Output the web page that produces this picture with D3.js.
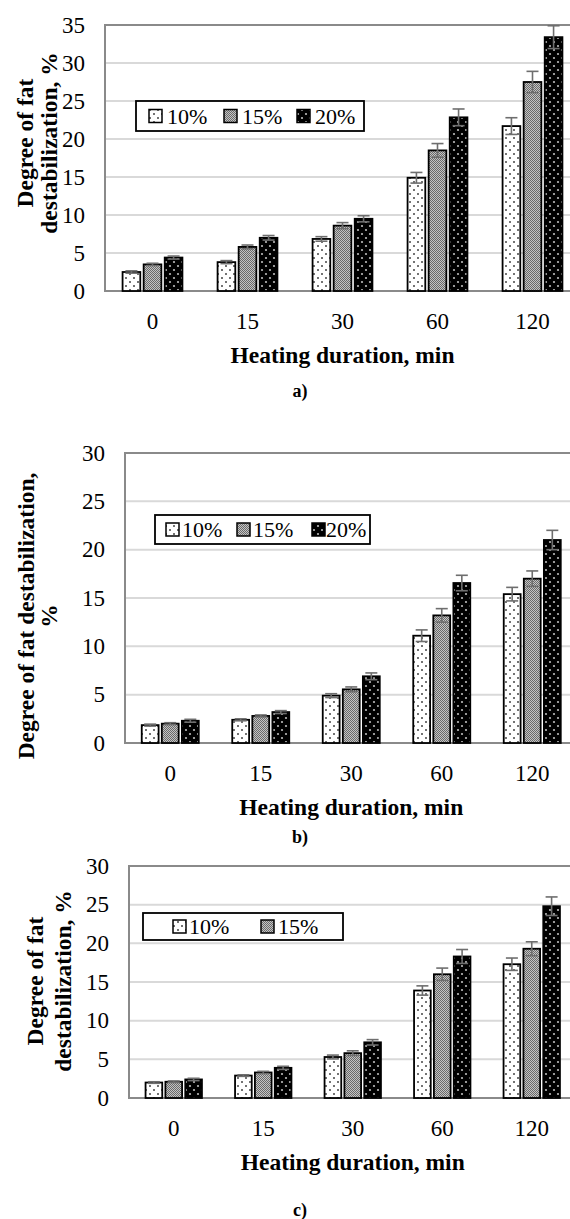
<!DOCTYPE html>
<html>
<head>
<meta charset="utf-8">
<script src="https://cdn.jsdelivr.net/npm/d3@7"></script>
<style>
html,body{margin:0;padding:0;background:#fff;}
svg{display:block;}
</style>
</head>
<body>
<svg id="chart" width="570" height="1219"></svg>
<script>
// ---------- data ----------
const categories = ["0", "15", "30", "60", "120"];
const seriesNames = ["10%", "15%", "20%"];
const legendA = ["10%", "15%", "20%"];
const legendB = ["10%", "15%", "20%"];
const legendC = ["10%", "15%"];
const ticksA = [0, 5, 10, 15, 20, 25, 30, 35];
const ticksB = [0, 5, 10, 15, 20, 25, 30];
const ticksC = [0, 5, 10, 15, 20, 25, 30];

// panel a
const a10 = [2.5, 3.8, 6.85, 14.9, 21.7];
const a15 = [3.5, 5.8, 8.6, 18.5, 27.5];
const a20 = [4.4, 7.0, 9.5, 22.85, 33.4];
const a10err = [0.15, 0.2, 0.3, 0.7, 1.1];
const a15err = [0.15, 0.25, 0.4, 0.9, 1.4];
const a20err = [0.2, 0.3, 0.4, 1.1, 1.5];
// panel b
const b10 = [1.85, 2.4, 4.9, 11.1, 15.4];
const b15 = [2.0, 2.8, 5.55, 13.2, 17.0];
const b20 = [2.3, 3.2, 6.9, 16.55, 21.0];
const b10err = [0.1, 0.1, 0.2, 0.6, 0.7];
const b15err = [0.1, 0.1, 0.25, 0.7, 0.8];
const b20err = [0.15, 0.15, 0.35, 0.8, 1.0];
// panel c
const c10 = [2.0, 2.9, 5.3, 13.9, 17.3];
const c15 = [2.1, 3.3, 5.8, 16.0, 19.3];
const c20 = [2.4, 3.9, 7.2, 18.3, 24.8];
const c10err = [0.1, 0.1, 0.25, 0.6, 0.8];
const c15err = [0.1, 0.15, 0.3, 0.8, 0.9];
const c20err = [0.15, 0.2, 0.35, 0.9, 1.2];

const yTitleA = ["Degree of fat", "destabilization, %"];
const yTitleB = ["Degree of fat destabilization,", "%"];
const yTitleC = ["Degree of fat", "destabilization, %"];
const xTitle = "Heating duration, min";

const FONT = "'Liberation Serif', 'Times New Roman', Times, 'DejaVu Serif', serif";

// ---------- layout ----------
const svg = d3.select("#chart").attr("font-family", FONT);
svg.append("rect").attr("width", 570).attr("height", 1219).attr("fill", "#fff");

const defs = svg.append("defs");
// 10%: white with dark dots
const p10 = defs.append("pattern").attr("id", "p10").attr("patternUnits", "userSpaceOnUse")
  .attr("width", 8).attr("height", 8);
p10.append("rect").attr("width", 8).attr("height", 8).attr("fill", "#fff");
p10.append("circle").attr("cx", 2).attr("cy", 2).attr("r", 1).attr("fill", "#444");
p10.append("circle").attr("cx", 6).attr("cy", 6).attr("r", 1).attr("fill", "#444");
// 15%: fine grey checker
const p15 = defs.append("pattern").attr("id", "p15").attr("patternUnits", "userSpaceOnUse")
  .attr("width", 2).attr("height", 2);
p15.append("rect").attr("width", 2).attr("height", 2).attr("fill", "#c4c4c4");
p15.append("rect").attr("width", 1).attr("height", 1).attr("fill", "#6a6a6a");
p15.append("rect").attr("x", 1).attr("y", 1).attr("width", 1).attr("height", 1).attr("fill", "#6a6a6a");
// 20%: black with light dots
const p20 = defs.append("pattern").attr("id", "p20").attr("patternUnits", "userSpaceOnUse")
  .attr("width", 8).attr("height", 8);
p20.append("rect").attr("width", 8).attr("height", 8).attr("fill", "#000");
p20.append("circle").attr("cx", 2).attr("cy", 2).attr("r", 1.1).attr("fill", "#bbb");
p20.append("circle").attr("cx", 6).attr("cy", 6).attr("r", 1.1).attr("fill", "#bbb");
const fills = ["url(#p10)", "url(#p15)", "url(#p20)"];

const panels = [
  { left: 105, top: 25, bottom: 291, band: 95, ymax: 35, ticks: ticksA,
    vals: [a10, a15, a20], errs: [a10err, a15err, a20err],
    yTitle: yTitleA, yTitleX: [25, 49], yTitleY: 143,
    legend: legendA, legBox: [136, 101, 228, 30], legSym: [149, 224, 297], legTxt: [167, 242, 315],
    letter: "a)", letterY: 391 },
  { left: 125, top: 453, bottom: 743, band: 90.5, ymax: 30, ticks: ticksB,
    vals: [b10, b15, b20], errs: [b10err, b15err, b20err],
    yTitle: yTitleB, yTitleX: [26, 49], yTitleY: 616,
    legend: legendB, legBox: [155, 515, 215, 29], legSym: [166, 237, 312], legTxt: [182, 253, 326],
    letter: "b)", letterY: 837 },
  { left: 129, top: 866, bottom: 1098, band: 89.5, ymax: 30, ticks: ticksC,
    vals: [c10, c15, c20], errs: [c10err, c15err, c20err],
    yTitle: yTitleC, yTitleX: [35, 63], yTitleY: 981,
    legend: legendC, legBox: [143, 913, 200, 27], legSym: [173, 261], legTxt: [189, 278],
    letter: "c)", letterY: 1210 }
];

function txt(sel) {
  return sel.attr("font-family", FONT);
}

panels.forEach(p => {
  const g = svg.append("g");
  const right = p.left + p.band * categories.length;
  const y = d3.scaleLinear().domain([0, p.ymax]).range([p.bottom, p.top]);
  const x = d3.scaleBand().domain(categories).range([p.left, right])
    .paddingInner(0.37).paddingOuter(0.185);
  const xs = d3.scaleBand().domain(seriesNames).range([0, x.bandwidth()]).paddingInner(0.16);

  // gridlines
  g.selectAll("line.grid").data(p.ticks.filter(t => t > 0 && t < p.ymax)).enter()
    .append("line").attr("x1", p.left).attr("x2", right)
    .attr("y1", d => y(d)).attr("y2", d => y(d))
    .attr("stroke", "#d9d9d9").attr("stroke-width", 2);

  // plot border
  g.append("rect").attr("x", p.left).attr("y", p.top)
    .attr("width", right - p.left).attr("height", p.bottom - p.top)
    .attr("fill", "none").attr("stroke", "#8a8a8a").attr("stroke-width", 2);

  // y tick labels
  txt(g.selectAll("text.yt").data(p.ticks).enter().append("text"))
    .attr("x", p.left - 20).attr("y", d => y(d))
    .attr("text-anchor", "end").attr("dominant-baseline", "central")
    .attr("font-size", 23).text(d => d);

  // x tick labels
  txt(g.selectAll("text.xt").data(categories).enter().append("text"))
    .attr("x", d => x(d) + x.bandwidth() / 2).attr("y", p.bottom + 30)
    .attr("text-anchor", "middle").attr("dominant-baseline", "central")
    .attr("font-size", 23).text(d => d);

  // bars
  seriesNames.forEach((s, si) => {
    g.selectAll(null).data(categories).enter().append("rect")
      .attr("x", d => x(d) + xs(s))
      .attr("y", (d, i) => y(p.vals[si][i]))
      .attr("width", xs.bandwidth())
      .attr("height", (d, i) => y(0) - y(p.vals[si][i]))
      .attr("fill", fills[si]).attr("stroke", "#000").attr("stroke-width", 1.8);
  });

  // error bars
  seriesNames.forEach((s, si) => {
    categories.forEach((c, i) => {
      const cx = x(c) + xs(s) + xs.bandwidth() / 2;
      const v = p.vals[si][i], e = p.errs[si][i];
      const eg = g.append("g").attr("stroke", "#6e6e6e").attr("stroke-width", 1.6);
      eg.append("line").attr("x1", cx).attr("x2", cx).attr("y1", y(v - e)).attr("y2", y(v + e));
      eg.append("line").attr("x1", cx - 6).attr("x2", cx + 6).attr("y1", y(v + e)).attr("y2", y(v + e));
      eg.append("line").attr("x1", cx - 6).attr("x2", cx + 6).attr("y1", y(v - e)).attr("y2", y(v - e));
    });
  });

  // y title (rotated)
  p.yTitle.forEach((t, li) => {
    txt(g.append("text"))
      .attr("transform", `translate(${p.yTitleX[li]},${p.yTitleY}) rotate(-90)`)
      .attr("text-anchor", "middle").attr("dominant-baseline", "central")
      .attr("font-size", 23.5).attr("font-weight", "bold").text(t);
  });

  // x title
  txt(g.append("text")).attr("x", (p.left + right) / 2).attr("y", p.bottom + 64)
    .attr("text-anchor", "middle").attr("dominant-baseline", "central")
    .attr("font-size", 23.5).attr("font-weight", "bold").text(xTitle);

  // panel letter
  txt(g.append("text")).attr("x", 300).attr("y", p.letterY)
    .attr("text-anchor", "middle").attr("dominant-baseline", "central")
    .attr("font-size", 18).attr("font-weight", "bold").text(p.letter);

  // legend
  const lb = p.legBox;
  g.append("rect").attr("x", lb[0]).attr("y", lb[1]).attr("width", lb[2]).attr("height", lb[3])
    .attr("fill", "#fff").attr("stroke", "#000").attr("stroke-width", 1.8);
  const cy = lb[1] + lb[3] / 2;
  p.legend.forEach((name, li) => {
    g.append("rect").attr("x", p.legSym[li]).attr("y", cy - 6.5).attr("width", 13).attr("height", 13)
      .attr("fill", fills[li]).attr("stroke", "#000").attr("stroke-width", 1.5);
    txt(g.append("text")).attr("x", p.legTxt[li]).attr("y", cy)
      .attr("dominant-baseline", "central").attr("font-size", 22).text(name);
  });
});
</script>
</body>
</html>
